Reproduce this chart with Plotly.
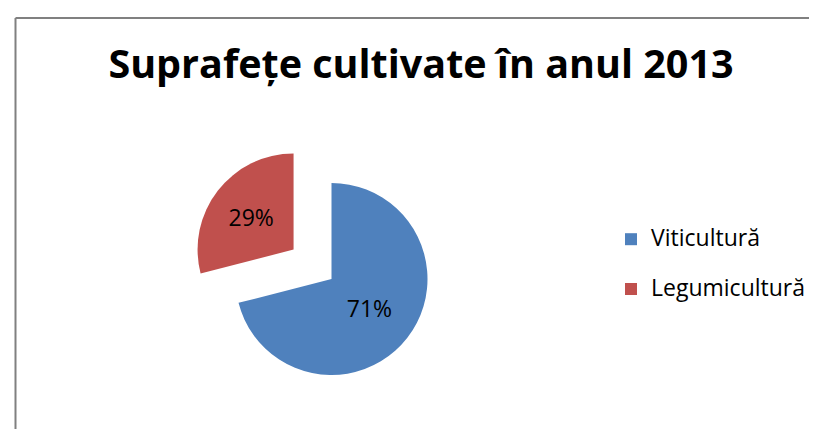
import plotly.graph_objects as go

W, H = 817, 429

categories = ["Viticultură", "Legumicultură"]
values = [71, 29]
pulls = [0, 0.5]
colors = ["#4F81BD", "#C0504D"]
title_text = "Suprafețe cultivate în anul 2013"

FONT = "Open Sans, Noto Sans, sans-serif"

# legend labels: larger visible text, extra blank line to widen row spacing
legend_labels = ["<span style='font-size:23px'>" + c + "</span><br> " for c in categories]

dx, dy = -7.5, -7  # pixel shift of pie box
fig = go.Figure(
    go.Pie(
        labels=legend_labels,
        values=values,
        customdata=categories,
        pull=pulls,
        sort=False,
        direction="clockwise",
        rotation=0,
        marker=dict(colors=colors, line=dict(width=0)),
        textinfo="percent",
        textposition="inside",
        insidetextorientation="horizontal",
        textfont=dict(family=FONT, size=23, color="black"),
        domain=dict(x=[(187 + dx) / W, (475 + dx) / W],
                    y=[1 - (422 + dy) / H, 1 - (134 + dy) / H]),
        hovertemplate="%{customdata}: %{percent}<extra></extra>",
    )
)

fig.update_layout(
    width=W,
    height=H,
    margin=dict(l=0, r=0, t=0, b=0),
    paper_bgcolor="white",
    plot_bgcolor="white",
    font=dict(family=FONT, color="black"),
    title=dict(
        text="<b>" + title_text + "</b>",
        x=413 / W,
        xanchor="center",
        y=1 - 56 / H,
        yanchor="middle",
        font=dict(family=FONT, size=39.5, color="black"),
    ),
    showlegend=True,
    legend=dict(
        x=603 / W,
        xanchor="left",
        y=1 - 268 / H,
        yanchor="middle",
        valign="top",
        font=dict(family=FONT, size=18, color="black"),
        bgcolor="rgba(0,0,0,0)",
    ),
    shapes=[
        dict(type="line", xref="paper", yref="paper",
             x0=7.5 / W, x1=1, y0=1 - 10 / H, y1=1 - 10 / H,
             line=dict(color="#808080", width=2)),
        dict(type="line", xref="paper", yref="paper",
             x0=7.5 / W, x1=7.5 / W, y0=0, y1=1 - 10 / H,
             line=dict(color="#808080", width=2)),
    ],
)

fig.write_html("out.html")
